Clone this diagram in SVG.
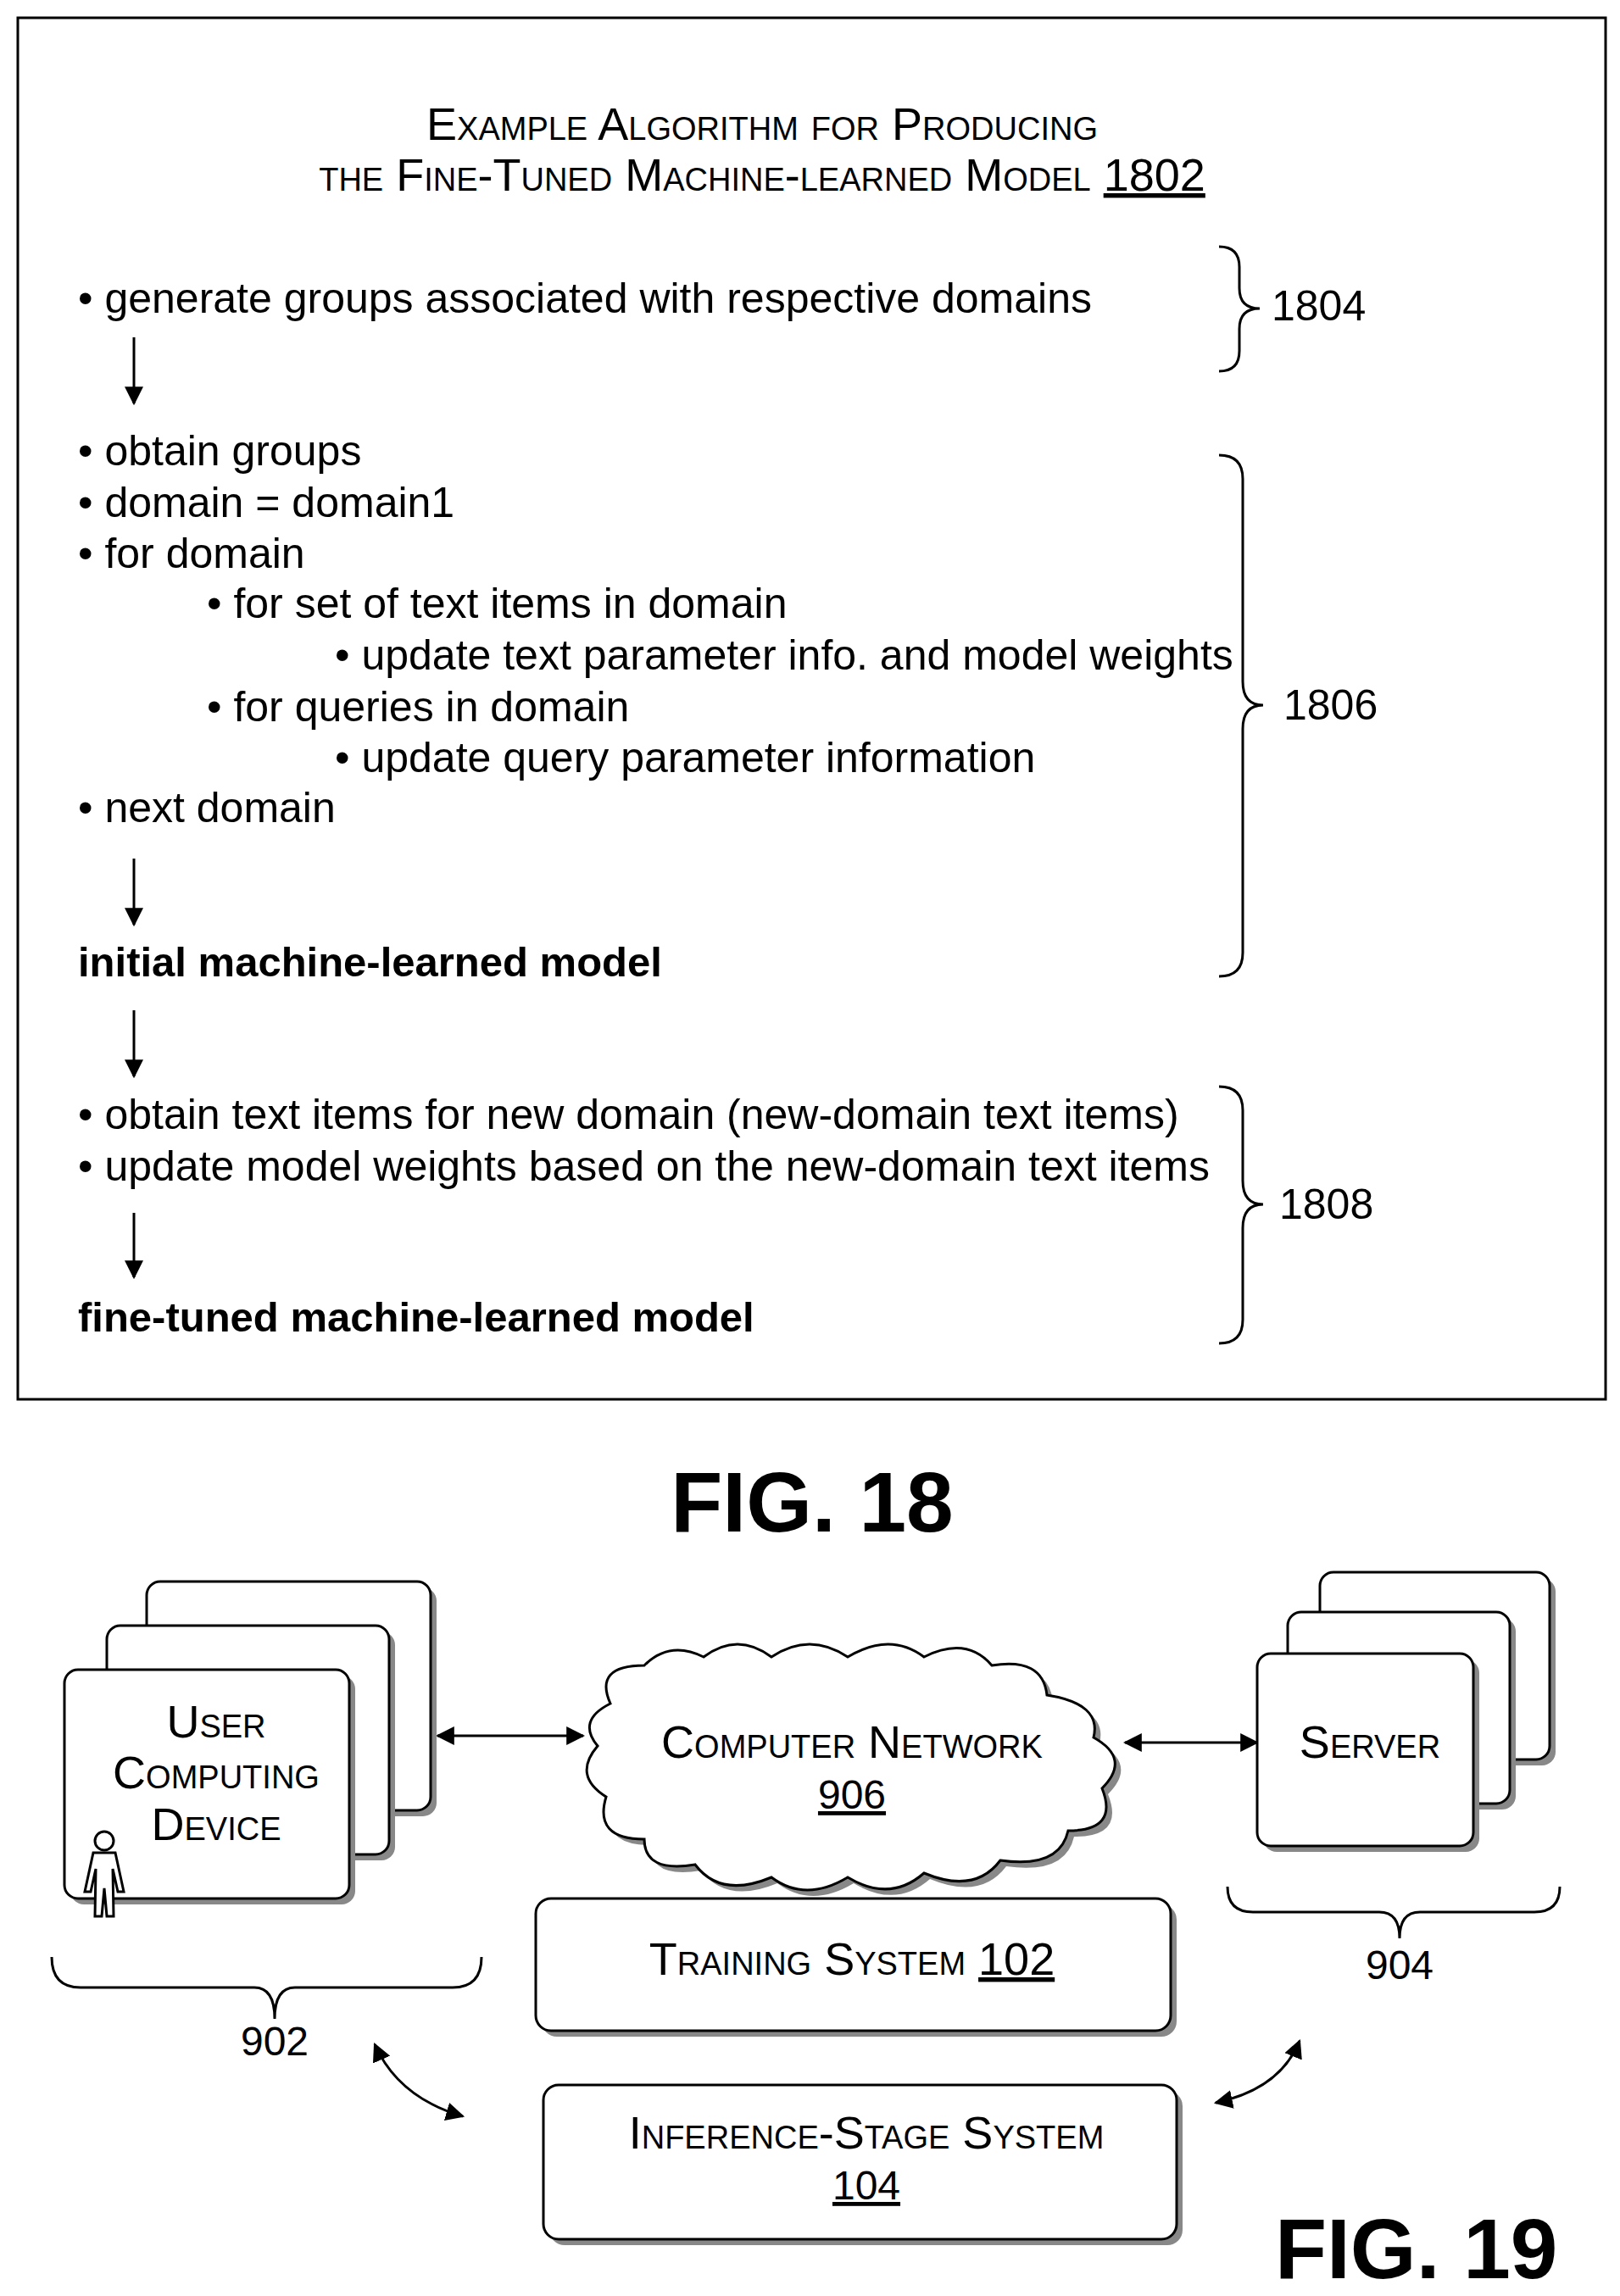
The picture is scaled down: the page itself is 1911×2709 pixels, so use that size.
<svg xmlns="http://www.w3.org/2000/svg" width="1911" height="2709" viewBox="0 0 1911 2709">
<style>
text{font-family:"Liberation Sans",Arial,sans-serif;fill:#000}
.t{font-size:50px}
.b{font-size:49px;font-weight:bold}
.sc{font-size:54px;font-variant:small-caps}
.lbl{font-size:48px}
.fig{font-size:100px;font-weight:bold}
.ln{fill:none;stroke:#000;stroke-width:3}
.box{fill:#fff;stroke:#000;stroke-width:3}
.sh{fill:#888}
</style>
<defs>
<marker id="ah2" viewBox="0 0 10 10" refX="9" refY="5" markerWidth="22" markerHeight="22" orient="auto-start-reverse" markerUnits="userSpaceOnUse"><path d="M0,0 L10,5 L0,10 z"/></marker>
</defs>
<rect x="21" y="21" width="1873" height="1630" class="ln"/>
<g id="title">
<text class="sc" x="899" y="165" text-anchor="middle">Example Algorithm for Producing</text>
<text class="sc" x="899" y="225" text-anchor="middle">the Fine-Tuned Machine-learned Model <tspan text-decoration="underline">1802</tspan></text>
</g>
<g id="steps">
<text class="t" x="92" y="369">• generate groups associated with respective domains</text>
<text class="t" x="92" y="549">• obtain groups</text>
<text class="t" x="92" y="610">• domain = domain1</text>
<text class="t" x="92" y="670">• for domain</text>
<text class="t" x="244" y="729">• for set of text items in domain</text>
<text class="t" x="395" y="790">• update text parameter info. and model weights</text>
<text class="t" x="244" y="851">• for queries in domain</text>
<text class="t" x="395" y="911">• update query parameter information</text>
<text class="t" x="92" y="970">• next domain</text>
<text class="b" x="92" y="1152">initial machine-learned model</text>
<text class="t" x="92" y="1332">• obtain text items for new domain (new-domain text items)</text>
<text class="t" x="92" y="1393">• update model weights based on the new-domain text items</text>
<text class="b" x="92" y="1571">fine-tuned machine-learned model</text>
</g>
<g id="connectors">
<path class="ln" d="M158,398 V476" marker-end="url(#ah2)"/>
<path class="ln" d="M158,1013 V1091" marker-end="url(#ah2)"/>
<path class="ln" d="M158,1192 V1270" marker-end="url(#ah2)"/>
<path class="ln" d="M158,1431 V1507" marker-end="url(#ah2)"/>
<path class="ln" d="M516,2048 H688" marker-start="url(#ah2)" marker-end="url(#ah2)"/>
<path class="ln" d="M1327,2056 H1483" marker-start="url(#ah2)" marker-end="url(#ah2)"/>
<path class="ln" d="M442,2412 Q470,2475 546,2497" marker-start="url(#ah2)" marker-end="url(#ah2)"/>
<path class="ln" d="M1533,2408 Q1510,2465 1434,2481" marker-start="url(#ah2)" marker-end="url(#ah2)"/>
</g>
<g id="braces">
<path class="ln" d="M1438,291 Q1462,291 1462,315 V340 Q1462,364 1486,364 Q1462,364 1462,388 V414 Q1462,438 1438,438"/>
<text class="t" x="1500" y="378">1804</text>
<path class="ln" d="M1438,537 Q1466,537 1466,565 V804 Q1466,832 1490,832 Q1466,832 1466,860 V1124 Q1466,1152 1438,1152"/>
<text class="t" x="1514" y="849">1806</text>
<path class="ln" d="M1438,1282 Q1466,1282 1466,1310 V1393 Q1466,1421 1490,1421 Q1466,1421 1466,1449 V1557 Q1466,1585 1438,1585"/>
<text class="t" x="1509" y="1438">1808</text>
<path class="ln" d="M61,2309 Q61,2345 95,2345 H300 Q324,2345 324,2382 Q324,2345 348,2345 H534 Q568,2345 568,2309"/>
<text class="lbl" x="324" y="2425" text-anchor="middle">902</text>
<path class="ln" d="M1448,2226 Q1448,2256 1478,2256 H1627 Q1651,2256 1651,2287 Q1651,2256 1675,2256 H1810 Q1840,2256 1840,2226"/>
<text class="lbl" x="1651" y="2335" text-anchor="middle">904</text>
</g>
<text class="fig" x="958" y="1807" text-anchor="middle">FIG. 18</text>
<g id="user-devices">
<rect class="sh" x="180" y="1873" width="335" height="270" rx="16"/>
<rect class="box" x="173" y="1866" width="335" height="270" rx="16"/>
<rect class="sh" x="133" y="1925" width="333" height="270" rx="16"/>
<rect class="box" x="126" y="1918" width="333" height="270" rx="16"/>
<rect class="sh" x="83" y="1977" width="336" height="270" rx="16"/>
<rect class="box" x="76" y="1970" width="336" height="270" rx="16"/>
<text class="sc" x="255" y="2050" text-anchor="middle">User</text>
<text class="sc" x="255" y="2110" text-anchor="middle">Computing</text>
<text class="sc" x="255" y="2171" text-anchor="middle">Device</text>
<g fill="#fff" stroke="#000" stroke-width="3">
<circle cx="123" cy="2172" r="11"/>
<path d="M110,2186 H136 L146,2232 H139 L133,2205 L134,2261 H126 L123,2228 L120,2261 H112 L113,2205 L107,2232 H100 Z"/>
</g>
</g>
<g id="servers">
<rect class="sh" x="1564" y="1862" width="271" height="221" rx="16"/>
<rect class="box" x="1557" y="1855" width="271" height="221" rx="16"/>
<rect class="sh" x="1526" y="1909" width="262" height="226" rx="16"/>
<rect class="box" x="1519" y="1902" width="262" height="226" rx="16"/>
<rect class="sh" x="1490" y="1958" width="255" height="227" rx="16"/>
<rect class="box" x="1483" y="1951" width="255" height="227" rx="16"/>
<text class="sc" x="1616" y="2074" text-anchor="middle">Server</text>
</g>
<g id="network">
<path class="sh" transform="translate(7,7)" d="M720,2010 Q700,1965 760,1965 Q790,1935 830,1955 Q870,1925 910,1955 Q955,1925 1000,1955 Q1050,1925 1090,1955 Q1140,1930 1170,1965 Q1230,1955 1235,2000 Q1300,2010 1290,2050 Q1335,2075 1300,2110 Q1320,2160 1260,2160 Q1250,2205 1180,2195 Q1150,2235 1090,2210 Q1050,2245 1000,2215 Q950,2245 910,2215 Q850,2240 820,2200 Q760,2210 760,2170 Q700,2170 715,2120 Q675,2095 705,2060 Q680,2030 720,2010 Z"/>
<path class="box" d="M720,2010 Q700,1965 760,1965 Q790,1935 830,1955 Q870,1925 910,1955 Q955,1925 1000,1955 Q1050,1925 1090,1955 Q1140,1930 1170,1965 Q1230,1955 1235,2000 Q1300,2010 1290,2050 Q1335,2075 1300,2110 Q1320,2160 1260,2160 Q1250,2205 1180,2195 Q1150,2235 1090,2210 Q1050,2245 1000,2215 Q950,2245 910,2215 Q850,2240 820,2200 Q760,2210 760,2170 Q700,2170 715,2120 Q675,2095 705,2060 Q680,2030 720,2010 Z"/>
<text class="sc" x="1005" y="2074" text-anchor="middle">Computer Network</text>
<text class="lbl" x="1005" y="2134" text-anchor="middle" text-decoration="underline">906</text>
</g>
<g id="training">
<rect class="sh" x="639" y="2247" width="749" height="156" rx="18"/>
<rect class="box" x="632" y="2240" width="749" height="156" rx="18"/>
<text class="sc" x="1005" y="2330" text-anchor="middle">Training System <tspan text-decoration="underline">102</tspan></text>
</g>
<g id="inference">
<rect class="sh" x="648" y="2467" width="747" height="182" rx="18"/>
<rect class="box" x="641" y="2460" width="747" height="182" rx="18"/>
<text class="sc" x="1022" y="2535" text-anchor="middle">Inference-Stage System</text>
<text class="lbl" x="1022" y="2595" text-anchor="middle" text-decoration="underline">104</text>
</g>
<text class="fig" x="1504" y="2688">FIG. 19</text>
</svg>
